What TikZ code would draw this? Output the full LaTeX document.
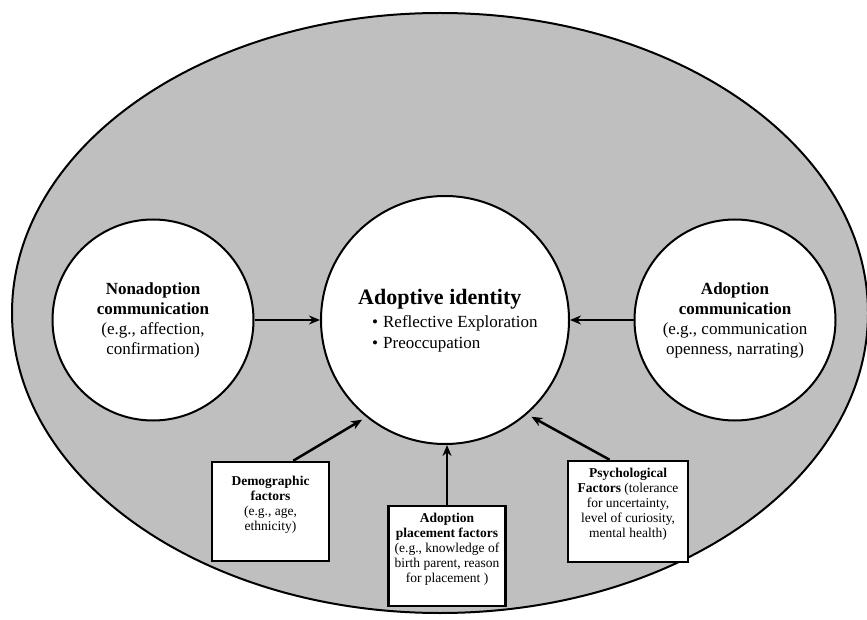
\documentclass[tikz,border=0pt]{standalone}
\usepackage{fontspec}
\setmainfont{Liberation Serif}
\usetikzlibrary{arrows.meta,calc}
\definecolor{bggray}{RGB}{191,191,191}
\begin{document}
\begin{tikzpicture}[x=1pt,y=-1pt,
  circ/.style={circle, draw=black, line width=2pt, fill=white, inner sep=0pt, align=center, font=\fontsize{17}{20}\selectfont},
  fbox/.style={rectangle, draw=black, line width=2.5pt, fill=white, inner sep=0pt},
  btext/.style={align=center, inner sep=0pt, anchor=north, font=\fontsize{13.5}{15}\selectfont},
  ltext/.style={anchor=base west, inner sep=0pt, font=\fontsize{17}{20}\selectfont},
  arr/.style={line width=2.5pt, -{Stealth[length=11pt,width=9pt]}}]
\useasboundingbox (0,0) rectangle (867,620);
\fill[white] (0,0) rectangle (867,620);
\draw[fill=bggray, line width=2pt] (440,313) ellipse [x radius=428pt, y radius=300pt];

% circles
\node[circ, minimum size=248pt] (adopt) at (445,320) {};
\node[anchor=base west, inner sep=0pt, font=\bfseries\fontsize{22}{24}\selectfont] (title) at (358,305) {Adoptive identity};
\node[ltext] (b1) at (372,327) {•\hspace{5pt}Reflective Exploration};
\node[ltext] (b2) at (372,348) {•\hspace{5pt}Preoccupation};

\node[circ, minimum size=201pt] (nonad) at (153,320) {\textbf{Nonadoption}\\\textbf{communication}\\(e.g., affection,\\confirmation)};
\node[circ, minimum size=201pt] (adoptc) at (735,320) {\textbf{Adoption}\\\textbf{communication}\\(e.g., communication\\openness, narrating)};

% boxes
\node[fbox, minimum width=117pt, minimum height=99pt] (demo) at (270.5,511.5) {};
\node[btext] (demotxt) at (270.5,475.5) {\textbf{Demographic}\\\textbf{factors}\\(e.g., age,\\ethnicity)};

\node[fbox, minimum width=117pt, minimum height=100pt] (place) at (447,556) {};
\node[btext] (placetxt) at (447,513) {\textbf{Adoption}\\\textbf{placement factors}\\(e.g., knowledge of\\birth parent, reason\\for placement )};

\node[fbox, minimum width=120pt, minimum height=101pt] (psych) at (628,511.5) {};
\node[btext] (psychtxt) at (628,468) {\textbf{Psychological}\\\textbf{Factors} (tolerance\\for uncertainty,\\level of curiosity,\\mental health)};

% arrows
\draw[arr] (nonad.east) -- (adopt.west);
\draw[arr] (adoptc.west) -- (adopt.east);
\draw[arr, shorten >=5pt] ($(demo.north west)!0.69!(demo.north east)$) -- (adopt.231.9);
\draw[arr] (place.north) -- (place.north |- adopt.south);
\draw[arr, shorten >=5pt] ($(psych.north west)!0.35!(psych.north east)$) -- (adopt.311.6);
\end{tikzpicture}
\end{document}
